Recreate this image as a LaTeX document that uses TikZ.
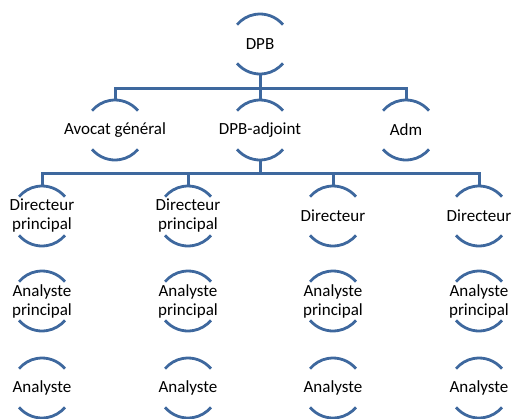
\documentclass[tikz,border=0pt]{standalone}
\usepackage{fontspec}
\setmainfont{Carlito}
\definecolor{orgblue}{RGB}{62,104,158}
\tikzset{
  post/.style={font=\fontsize{17}{19}\selectfont, align=center, inner sep=0pt},
  rim/.style={orgblue, line width=2.8pt},
  link/.style={orgblue, line width=3pt},
}
\begin{document}
\begin{tikzpicture}[x=1pt,y=1pt]
	\useasboundingbox (0,0) rectangle (511,-418);
	% top and middle rows
	\node[post] (dpb)     at (260,-44)  {DPB};
	\node[post] (avocat)  at (115,-130) {Avocat général};
	\node[post] (adjoint) at (260,-130) {DPB-adjoint};
	\node[post] (adm)     at (406,-130) {Adm};
	% four columns below the deputy
	\foreach \c/\x/\t in {1/42/{Directeur\\principal}, 2/188/{Directeur\\principal}, 3/333/Directeur, 4/479/Directeur}{
		\node[post] (dir\c) at (\x,-216) {\t};
		\node[post] (ap\c)  at (\x,-301) {Analyste\\principal};
		\node[post] (an\c)  at (\x,-388) {Analyste};
	}
	% open rings round every post
	\foreach \n in {dpb,avocat,adjoint,adm,dir1,dir2,dir3,dir4,ap1,ap2,ap3,ap4,an1,an2,an3,an4}
		\draw[rim] ([shift={(40:30)}]\n.center) arc[start angle=40,end angle=140,radius=30]
		           ([shift={(220:30)}]\n.center) arc[start angle=220,end angle=320,radius=30];
	% reporting lines
	\draw[link] ([yshift=-30]dpb.center) -- ++(0,-14) -| ([yshift=30]avocat.center);
	\draw[link] ([yshift=-30]dpb.center) -- ++(0,-14) -| ([yshift=30]adm.center);
	\draw[link] ([yshift=-30]dpb.center) -- ([yshift=30]adjoint.center);
	\foreach \c in {1,...,4}
		\draw[link] ([yshift=-30]adjoint.center) -- ++(0,-13) -| ([yshift=30]dir\c.center);
\end{tikzpicture}
\end{document}
